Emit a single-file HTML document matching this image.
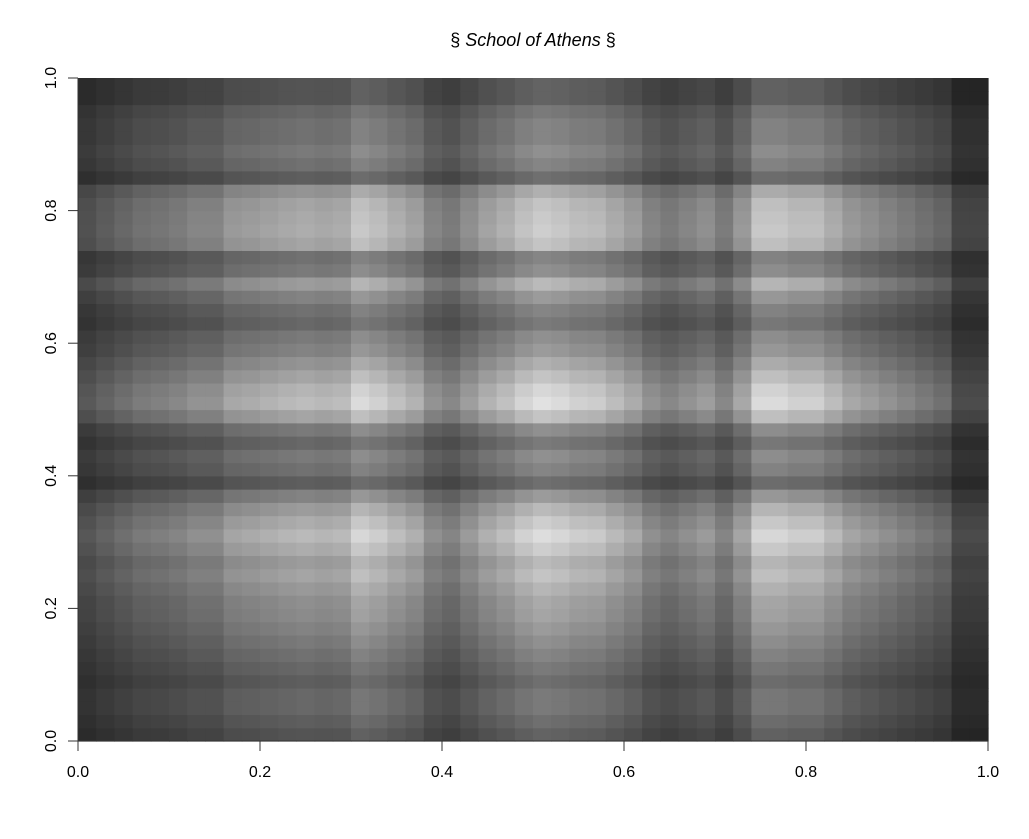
<!DOCTYPE html>
<html><head><meta charset="utf-8">
<style>
html,body{margin:0;padding:0;background:#fff;}
svg{display:block;font-family:"Liberation Sans",Arial,sans-serif;}
</style></head>
<body>
<svg id="chart" width="1029" height="839" viewBox="0 0 1029 839">
  <text x="533" y="46" text-anchor="middle" font-size="18">§ <tspan font-style="italic">School of Athens</tspan> §</text>
  <g id="cells"></g>
  <g id="axes"></g>
</svg>
<script>
const colValues = [.25,.3,.35,.4,.42,.45,.5,.5,.6,.62,.65,.68,.7,.68,.7,.85,.8,.72,.65,.5,.45,.55,.65,.72,.82,.88,.85,.8,.78,.7,.62,.5,.45,.5,.55,.45,.6,.85,.85,.8,.8,.7,.6,.55,.5,.45,.4,.35,.2,.2];
const rowValues = [.3,.35,.4,.4,.35,.4,.45,.5,.55,.6,.62,.68,.75,.7,.8,.88,.8,.7,.55,.35,.45,.5,.4,.5,.75,.9,.85,.75,.65,.55,.5,.4,.45,.55,.7,.5,.45,.75,.8,.78,.75,.65,.35,.45,.5,.45,.45,.4,.3,.3];
const xTicks = [0,0.2,0.4,0.6,0.8,1.0];
const yTicks = [0,0.2,0.4,0.6,0.8,1.0];
const tickLabels = ["0.0","0.2","0.4","0.6","0.8","1.0"];

const NS="http://www.w3.org/2000/svg";
const X0=78,X1=988,Y0=741,Y1=78;
const xs=v=>X0+(X1-X0)*v;
const ys=v=>Y0-(Y0-Y1)*v;
const cells=document.getElementById('cells');
const nc=colValues.length,nr=rowValues.length;
let maxP=0;
for(const a of colValues)for(const b of rowValues)maxP=Math.max(maxP,a*b);
for(let i=0;i<nc;i++){
  for(let j=0;j<nr;j++){
    const p=colValues[i]*rowValues[j]/maxP;
    const g=Math.round(10+215*Math.pow(p,0.8));
    const r=document.createElementNS(NS,'rect');
    const x0=xs(i/nc),x1=xs((i+1)/nc),yt=ys((j+1)/nr),yb=ys(j/nr);
    r.setAttribute('x',x0);r.setAttribute('y',yt);
    r.setAttribute('width',x1-x0+0.6);r.setAttribute('height',yb-yt+0.6);
    r.setAttribute('fill',`rgb(${g},${g},${g})`);
    
    
    cells.appendChild(r);
  }
}
const axes=document.getElementById('axes');
function add(tag,attrs,name,text){
  const e=document.createElementNS(NS,tag);
  for(const k in attrs)e.setAttribute(k,attrs[k]);
  
  
  if(text!==undefined)e.textContent=text;
  axes.appendChild(e);return e;
}
add('line',{x1:X0,y1:Y0,x2:X1,y2:Y0,stroke:'#333','stroke-width':1},'x-axis-line');
add('line',{x1:X0,y1:Y0,x2:X0,y2:Y1,stroke:'#333','stroke-width':1},'y-axis-line');
xTicks.forEach((v,k)=>{
  add('line',{x1:xs(v),y1:Y0,x2:xs(v),y2:Y0+10,stroke:'#333'},'x-tick');
  add('text',{x:xs(v),y:Y0+36,'text-anchor':'middle','font-size':16},'x-tick-label',tickLabels[k]);
});
yTicks.forEach((v,k)=>{
  add('line',{x1:X0,y1:ys(v),x2:X0-10,y2:ys(v),stroke:'#333'},'y-tick');
  add('text',{x:0,y:0,'text-anchor':'middle','font-size':16,transform:`translate(56,${ys(v)}) rotate(-90)`},'y-tick-label',tickLabels[k]);
});
</script>
</body></html>
